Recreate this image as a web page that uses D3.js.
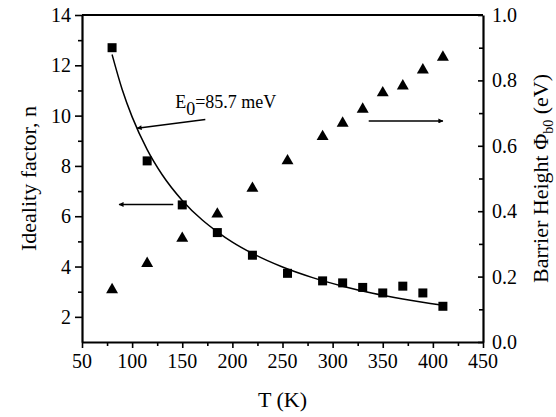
<!DOCTYPE html>
<html>
<head>
<meta charset="utf-8">
<script src="https://cdn.jsdelivr.net/npm/d3@7"></script>
</head>
<body style="margin:0">
<svg id="chart" width="556" height="417"></svg>
<script>
// temperatures (K)
var temps = [80, 115, 150, 185, 220, 255, 290, 310, 330, 350, 370, 390, 410];
// ideality factor n (squares, left axis)
var ideality = [12.7, 8.2, 6.45, 5.35, 4.45, 3.73, 3.43, 3.35, 3.17, 2.95, 3.22, 2.95, 2.42];
// barrier height (triangles, right axis)
var barrier = [0.16, 0.24, 0.317, 0.391, 0.47, 0.554, 0.628, 0.669, 0.712, 0.762, 0.783, 0.832, 0.871];
// fitted curve
var fitT = [80, 90, 100, 115, 130, 150, 170, 185, 200, 220, 250, 280, 310, 340, 370, 410];
var fitN = [12.43, 11.05, 9.95, 8.65, 7.65, 6.63, 5.85, 5.38, 4.97, 4.52, 3.98, 3.56, 3.22, 2.94, 2.71, 2.46];

var xTicks = [50, 100, 150, 200, 250, 300, 350, 400, 450];
var yTicks = [2, 4, 6, 8, 10, 12, 14];
var y2Ticks = [0, 0.2, 0.4, 0.6, 0.8, 1.0];

var svg = d3.select("#chart");
var margin = {top: 15, right: 73, bottom: 75, left: 82},
    width = 556 - margin.left - margin.right,
    height = 417 - margin.top - margin.bottom;

var g = svg.append("g").attr("transform", "translate(" + margin.left + "," + margin.top + ")");

var x = d3.scaleLinear().domain([50, 450]).range([0, width]);
var y = d3.scaleLinear().domain([1, 14]).range([height, 0]);
var y2 = d3.scaleLinear().domain([0, 1]).range([height, 0]);

// arrow marker
svg.append("defs").append("marker")
    .attr("id", "arrow")
    .attr("viewBox", "0 0 10 10")
    .attr("refX", 9).attr("refY", 5)
    .attr("markerWidth", 7).attr("markerHeight", 5)
    .attr("markerUnits", "userSpaceOnUse")
    .attr("orient", "auto")
  .append("path").attr("d", "M0,0L10,5L0,10z").attr("fill", "#000");

// tick marks only (labels are drawn as plain text below)
function ticksOnly(axis) { return axis.tickFormat(""); }
g.append("g").attr("transform", "translate(0," + height + ")")
    .call(ticksOnly(d3.axisBottom(x).tickValues(d3.range(75, 450, 50)).tickSize(4)))
    .call(function(s) { s.select(".domain").remove(); });
g.append("g")
    .call(ticksOnly(d3.axisLeft(y).tickValues([3, 5, 7, 9, 11, 13]).tickSize(4)))
    .call(function(s) { s.select(".domain").remove(); });
g.append("g").attr("transform", "translate(" + width + ",0)")
    .call(ticksOnly(d3.axisRight(y2).tickValues([0.1, 0.3, 0.5, 0.7, 0.9]).tickSize(-4)))
    .call(function(s) { s.select(".domain").remove(); });
g.append("g").attr("transform", "translate(0," + height + ")")
    .call(ticksOnly(d3.axisBottom(x).tickValues(xTicks).tickSize(6).tickSizeOuter(0)));
g.append("g")
    .call(ticksOnly(d3.axisLeft(y).tickValues(yTicks).tickSize(7).tickSizeOuter(0)));
g.append("g").attr("transform", "translate(" + width + ",0)")
    .call(ticksOnly(d3.axisRight(y2).tickValues(y2Ticks).tickSize(-5).tickSizeOuter(0)));

g.selectAll(".tick text").remove();
g.selectAll(".tick line").attr("stroke", "#000").attr("stroke-width", 1.6);
g.selectAll(".domain").attr("stroke", "#000").attr("stroke-width", 2.2);

// tick labels as plain text
g.selectAll(".xl").data(xTicks).enter().append("text")
    .attr("x", function(d) { return x(d); }).attr("y", height + 26)
    .attr("text-anchor", "middle").attr("font-family", "Liberation Serif").attr("font-size", 20)
    .text(function(d) { return d; });
g.selectAll(".yl").data(yTicks).enter().append("text")
    .attr("x", -11).attr("y", function(d) { return y(d) + 7; })
    .attr("text-anchor", "end").attr("font-family", "Liberation Serif").attr("font-size", 20)
    .text(function(d) { return d; });
g.selectAll(".y2l").data(y2Ticks).enter().append("text")
    .attr("x", width + 9).attr("y", function(d) { return y2(d) + 7; })
    .attr("font-family", "Liberation Serif").attr("font-size", 20)
    .text(function(d) { return d.toFixed(1); });

// top border
g.append("line").attr("x1", 0).attr("x2", width).attr("y1", 0).attr("y2", 0)
    .attr("stroke", "#000").attr("stroke-width", 2.2);

// fit curve
var line = d3.line()
    .x(function(d, i) { return x(fitT[i]); })
    .y(function(d) { return y(d); })
    .curve(d3.curveMonotoneX);
g.append("path").datum(fitN).attr("d", line)
    .attr("fill", "none").attr("stroke", "#000").attr("stroke-width", 1.5);

// squares
g.selectAll(".sq").data(ideality).enter().append("rect")
    .attr("class", "sq")
    .attr("x", function(d, i) { return x(temps[i]) - 4.5; })
    .attr("y", function(d) { return y(d) - 4.5; })
    .attr("width", 9).attr("height", 9)
    .attr("fill", "#000");

// triangles
var tri = d3.symbol().type(d3.symbolTriangle).size(62);
g.selectAll(".tri").data(barrier).enter().append("path")
    .attr("class", "tri")
    .attr("d", tri)
    .attr("transform", function(d, i) { return "translate(" + x(temps[i]) + "," + y2(d) + ")"; })
    .attr("fill", "#000");

// arrows
function arrow(x1, y1, x2, y2) {
    g.append("line")
        .attr("x1", x1).attr("y1", y1).attr("x2", x2).attr("y2", y2)
        .attr("stroke", "#000").attr("stroke-width", 1.5)
        .attr("marker-end", "url(#arrow)");
}
arrow(x(173), y(9.85), x(105), y(9.5));
arrow(x(141), y(6.47), x(87), y(6.47));
arrow(x(336), y2(0.676), x(410), y2(0.676));

// annotation
var ann = g.append("text").attr("x", x(143)).attr("y", y(10.3))
    .attr("font-family", "Liberation Serif").attr("font-size", 18);
ann.append("tspan").text("E");
ann.append("tspan").attr("dy", 7).text("0");
ann.append("tspan").attr("dy", -7).text("=85.7 meV");

// axis titles
svg.append("text")
    .attr("x", margin.left + width / 2).attr("y", 407)
    .attr("text-anchor", "middle")
    .attr("font-family", "Liberation Serif").attr("font-size", 22)
    .text("T (K)");

svg.append("text")
    .attr("transform", "translate(36," + (margin.top + height / 2) + ") rotate(-90)")
    .attr("text-anchor", "middle")
    .attr("font-family", "Liberation Serif").attr("font-size", 22)
    .text("Ideality factor, n");

var rt = svg.append("text")
    .attr("transform", "translate(548," + (margin.top + height / 2) + ") rotate(-90)")
    .attr("text-anchor", "middle")
    .attr("font-family", "Liberation Serif").attr("font-size", 22);
rt.append("tspan").text("Barrier Height \u03A6");
rt.append("tspan").attr("dy", 5).attr("font-size", 14).text("b0");
rt.append("tspan").attr("dy", -5).text(" (eV)");
</script>
</body>
</html>
